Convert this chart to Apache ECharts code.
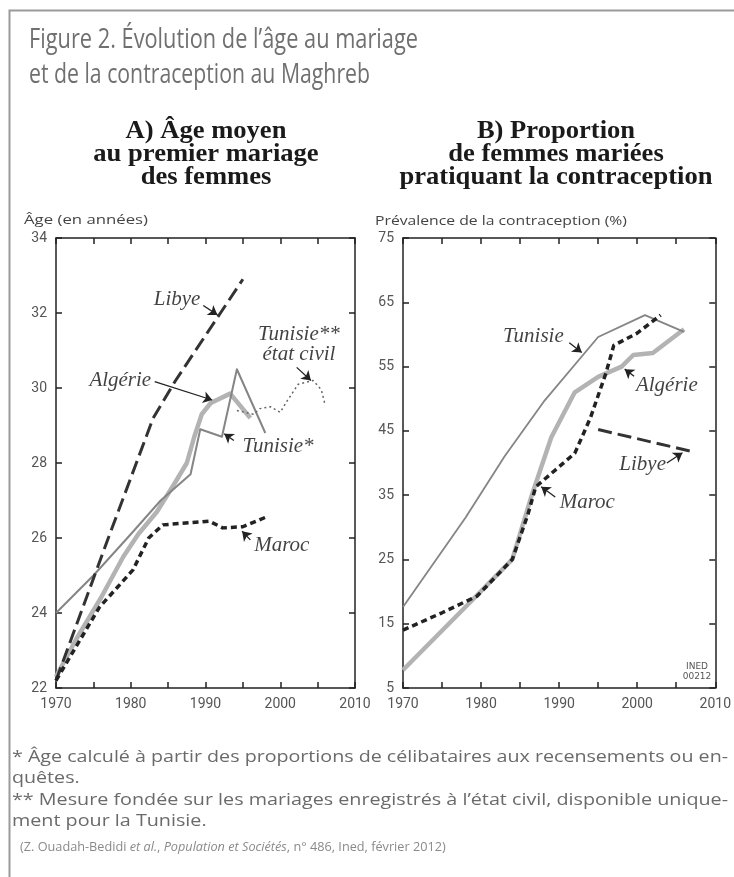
<!DOCTYPE html>
<html>
<head>
<meta charset="utf-8">
<script src="https://cdn.jsdelivr.net/npm/echarts@6/dist/echarts.min.js"></script>
<style>
  html, body { margin: 0; padding: 0; background: #fff; }
  #chart { width: 734px; height: 877px; }
</style>
</head>
<body>
<div id="chart"></div>
<script>
// A) Âge moyen au premier mariage des femmes (années)
const ageLibye = [[1970, 22.2], [1977, 26.0], [1983, 29.2], [1986, 30.2], [1992, 32.0], [1995, 32.9]];
const ageAlgerie = [[1970, 22.3], [1972.7, 23.3], [1976, 24.4], [1979, 25.5], [1981, 26.1], [1983.5, 26.7], [1986, 27.5], [1987.5, 28.0], [1988.5, 28.7], [1989.5, 29.3], [1990.7, 29.6], [1993.3, 29.85], [1996, 29.2]];
const ageTunisie = [[1970, 24.0], [1975, 25.0], [1980, 26.1], [1984, 27.0], [1988, 27.7], [1989.3, 28.9], [1992.2, 28.7], [1994.2, 30.5], [1998, 28.8]];
const ageTunisieCivil = [[1994.2, 29.4], [1996.4, 29.3], [1997.3, 29.45], [1998.7, 29.5], [2000, 29.35], [2000.9, 29.65], [2002.4, 30.1], [2004.4, 30.2], [2005.5, 29.95], [2006, 29.55]];
const ageMaroc = [[1970, 22.2], [1975.8, 24.15], [1980.3, 25.15], [1982.4, 26.0], [1984.3, 26.35], [1990.5, 26.45], [1992.3, 26.27], [1995, 26.3], [1998, 26.55]];

// B) Proportion de femmes mariées pratiquant la contraception (%)
const contTunisie = [[1970, 17.6], [1978, 31.5], [1983, 41.0], [1988, 49.5], [1995, 59.6], [2001, 63.0], [2006, 60.4]];
const contAlgerie = [[1970, 7.8], [1978, 17.6], [1984, 25.0], [1986.5, 35.0], [1989, 44.0], [1992, 51.0], [1995, 53.4], [1998, 55.0], [1999.5, 56.8], [2002, 57.1], [2006, 60.8]];
const contMaroc = [[1970, 14.0], [1975, 16.7], [1979.5, 19.3], [1984, 25.0], [1986, 32.0], [1987, 36.3], [1992, 41.5], [1994, 47.0], [1996, 54.0], [1997, 58.3], [2000, 60.2], [2003, 63.0]];
const contLibye = [[1995, 45.2], [2007, 41.8]];

// libellés des courbes (texte seulement)
const ageNoteTexts = ['Libye', 'Tunisie**\nétat civil', 'Algérie', 'Tunisie*', 'Maroc'];
const contNoteTexts = ['Tunisie', 'Algérie', 'Libye', 'Maroc'];

// placement des libellés et flèches, en coordonnées des axes
const AGE_NOTE_POS = [
  { at: [1986.2, 32.35], from: [1989.7, 32.2], to: [1991.6, 31.95] },
  { at: [2002.5, 31.15], from: [2002.2, 30.55], to: [2004.1, 30.2] },
  { at: [1978.6, 30.2], from: [1983.2, 30.17], to: [1990.9, 29.68], curve: -0.2 },
  { at: [1999.7, 28.45], from: [1993.8, 28.6], to: [1992.5, 28.78] },
  { at: [2000.2, 25.8], from: [1996.0, 25.95], to: [1994.9, 26.18] }
];
const CONT_NOTE_POS = [
  { at: [1986.7, 59.7], from: [1991.3, 58.7], to: [1992.9, 57.2] },
  { at: [2003.8, 52.0], from: [1999.6, 53.5], to: [1998.4, 54.6] },
  { at: [2000.7, 39.7], from: [2003.8, 40.0], to: [2005.8, 41.6] },
  { at: [1993.6, 33.8], from: [1989.5, 34.7], to: [1987.7, 36.3] }
];

const INK = '#222';
const LABEL = '#555';
const LIGHT = '#b3b3b3';
const MID = '#858585';
const NOTE_FONT = 'Liberation Serif';

const measureCtx = document.createElement('canvas').getContext('2d');
function scaleFor(text, font, width) {
  measureCtx.font = font;
  return width / measureCtx.measureText(text).width;
}
function textEl(text, x, y, font, fill, scaleX, align, rich) {
  return {
    type: 'text', x, y, scaleX, silent: true,
    style: { text, font, fill, textAlign: align || 'left', align: align || 'left', textVerticalAlign: 'middle', verticalAlign: 'middle', rich }
  };
}

function axisPair(gridIndex, min, max, interval, isX) {
  const tick = { show: true, inside: true, length: 6, lineStyle: { color: INK, width: 1.5 } };
  const line = { show: true, onZero: false, lineStyle: { color: INK, width: 1.5 } };
  const base = { type: 'value', gridIndex, min, max, interval, splitLine: { show: false }, axisTick: tick, axisLine: line };
  return [
    Object.assign({}, base, {
      position: isX ? 'bottom' : 'left',
      axisLabel: {
        color: LABEL, fontFamily: 'Roboto', fontSize: 14, margin: 9,
        showMinLabel: true, showMaxLabel: true,
        formatter: (v) => (isX && v % 10 !== 0 ? '' : String(v))
      }
    }),
    Object.assign({}, base, { position: isX ? 'top' : 'right', axisLabel: { show: false } })
  ];
}

function lineSeries(name, data, xi, yi, color, width, type) {
  return {
    name, type: 'line', data, xAxisIndex: xi, yAxisIndex: yi,
    showSymbol: false, symbol: 'none', smooth: false, silent: true,
    lineStyle: { color, width, type: type || 'solid', cap: 'butt', join: 'round' }
  };
}

function noteSeries(texts, pos, xi, yi) {
  return {
    type: 'scatter', xAxisIndex: xi, yAxisIndex: yi, symbolSize: 1, silent: true,
    itemStyle: { color: 'rgba(0,0,0,0)' },
    data: texts.map((t, i) => ({ value: pos[i].at, name: t })),
    label: {
      show: true, position: 'inside', formatter: (p) => p.name,
      fontFamily: NOTE_FONT, fontStyle: 'italic', fontSize: 21, color: '#111', lineHeight: 20, align: 'center'
    },
    markLine: {
      silent: true, animation: false,
      symbol: ['none', 'arrow'], symbolSize: 9,
      label: { show: false },
      itemStyle: { color: INK, opacity: 1 },
      lineStyle: { color: INK, width: 1.3, type: 'solid', opacity: 1 },
      data: pos.map((p) => [
        { coord: p.from, lineStyle: { curveness: p.curve || 0 } },
        { coord: p.to }
      ])
    }
  };
}

const chart = echarts.init(document.getElementById('chart'), null, { renderer: 'canvas' });

const ageX = axisPair(0, 1970, 2010, 5, true);
const ageY = axisPair(0, 22, 34, 2, false);
const contX = axisPair(1, 1970, 2010, 5, true);
const contY = axisPair(1, 5, 75, 10, false);

const TITLE_FONT = '28px "Open Sans"';
const SUB_FONT = 'bold 25px "Liberation Serif"';
const AXNAME_FONT = '13px "Open Sans"';
const FOOT_FONT = '16px "Open Sans"';
const SRC_FONT = '12px "Open Sans"';

const foot1 = '* Âge calculé à partir des proportions de célibataires aux recensements ou en-';
const foot3 = '** Mesure fondée sur les mariages enregistrés à l\u2019état civil, disponible unique-';
const src = '(Z. Ouadah-Bedidi et al., Population et Sociétés, n° 486, Ined, février 2012)';
const srcRich = '(Z. Ouadah-Bedidi {i|et al.}, {i|Population et Sociétés}, n° 486, Ined, février 2012)';
const f1Scale = scaleFor(foot1, FOOT_FONT, 716);
const f3Scale = scaleFor(foot3, FOOT_FONT, 716);
const subScale = scaleFor('pratiquant la contraception', SUB_FONT, 313);

chart.setOption({
  animation: false,
  backgroundColor: '#fff',
  grid: [
    { left: 56, top: 238, width: 299, height: 450 },
    { left: 403, top: 238, width: 314, height: 450 }
  ],
  xAxis: [...ageX, ...contX],
  yAxis: [...ageY, ...contY],
  series: [
    lineSeries('Algérie', ageAlgerie, 0, 0, LIGHT, 4.5),
    lineSeries('Tunisie*', ageTunisie, 0, 0, MID, 2),
    lineSeries('Tunisie**', ageTunisieCivil, 0, 0, '#666', 1.5, [2, 3]),
    lineSeries('Libye', ageLibye, 0, 0, '#333', 3, [14, 6]),
    lineSeries('Maroc', ageMaroc, 0, 0, INK, 3.5, [6, 4]),
    noteSeries(ageNoteTexts, AGE_NOTE_POS, 0, 0),

    lineSeries('Algérie', contAlgerie, 2, 2, LIGHT, 4.5),
    lineSeries('Tunisie', contTunisie, 2, 2, MID, 1.8),
    lineSeries('Libye', contLibye, 2, 2, '#333', 3, [14, 6]),
    lineSeries('Maroc', contMaroc, 2, 2, INK, 3.5, [6, 4]),
    noteSeries(contNoteTexts, CONT_NOTE_POS, 2, 2)
  ],
  graphic: [
    { type: 'rect', silent: true, shape: { x: 9.5, y: 10.5, width: 800, height: 900 }, style: { fill: 'none', stroke: '#9a9a9a', lineWidth: 2 } },
    textEl('Figure 2. Évolution de l\u2019âge au mariage', 29, 40, TITLE_FONT, '#707070', scaleFor('Figure 2. Évolution de l\u2019âge au mariage', TITLE_FONT, 389)),
    textEl('et de la contraception au Maghreb', 29, 75, TITLE_FONT, '#707070', scaleFor('et de la contraception au Maghreb', TITLE_FONT, 341)),

    textEl('A) Âge moyen', 206, 132, SUB_FONT, '#1a1a1a', subScale, 'center'),
    textEl('au premier mariage', 206, 155, SUB_FONT, '#1a1a1a', subScale, 'center'),
    textEl('des femmes', 206, 178, SUB_FONT, '#1a1a1a', subScale, 'center'),
    textEl('B) Proportion', 556, 132, SUB_FONT, '#1a1a1a', subScale, 'center'),
    textEl('de femmes mariées', 556, 155, SUB_FONT, '#1a1a1a', subScale, 'center'),
    textEl('pratiquant la contraception', 556, 178, SUB_FONT, '#1a1a1a', subScale, 'center'),

    textEl('Âge (en années)', 24, 220, AXNAME_FONT, '#444', scaleFor('Âge (en années)', AXNAME_FONT, 124)),
    textEl('Prévalence de la contraception (%)', 375, 221, AXNAME_FONT, '#444', scaleFor('Prévalence de la contraception (%)', AXNAME_FONT, 252)),

    {
      type: 'text', x: 697, y: 672, silent: true,
      style: { text: 'INED\n00212', font: '9px "DejaVu Sans"', fill: '#555', textAlign: 'center', align: 'center', textVerticalAlign: 'middle', verticalAlign: 'middle', lineHeight: 10 }
    },

    textEl(foot1, 12, 757, FOOT_FONT, '#6a6a6a', f1Scale),
    textEl('quêtes.', 12, 778, FOOT_FONT, '#6a6a6a', f1Scale),
    textEl(foot3, 12, 800, FOOT_FONT, '#6a6a6a', f3Scale),
    textEl('ment pour la Tunisie.', 12, 821, FOOT_FONT, '#6a6a6a', f3Scale),
    textEl(srcRich, 20, 848, SRC_FONT, '#8a8a8a', scaleFor(src, SRC_FONT, 435), 'left', { i: { fontStyle: 'italic', font: 'italic ' + SRC_FONT, fill: '#8a8a8a' } })
  ]
});
</script>
</body>
</html>
